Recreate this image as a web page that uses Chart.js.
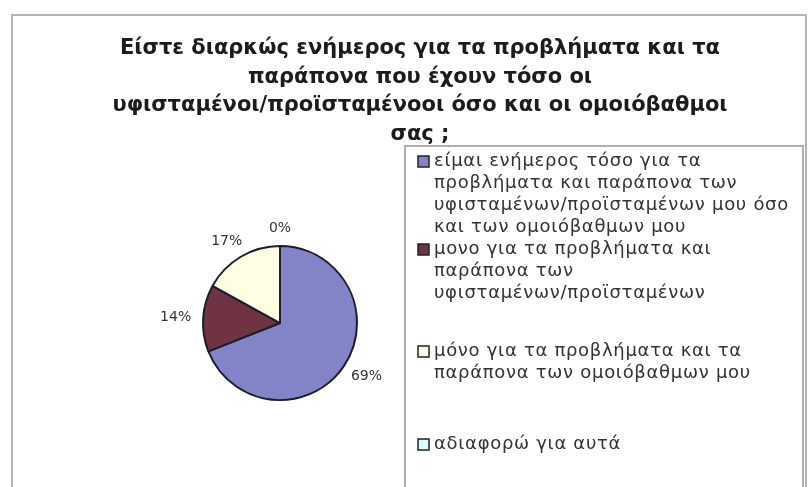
<!DOCTYPE html>
<html lang="el">
<head>
<meta charset="utf-8">
<title>Ενημέρωση για προβλήματα και παράπονα</title>
<script src="https://cdn.jsdelivr.net/npm/chart.js@4.4.1/dist/chart.umd.min.js"></script>
<style>
  html, body { margin: 0; padding: 0; background: #fff; }
  #pieChart { display: block; }
</style>
</head>
<body>
<canvas id="pieChart" width="811" height="487"></canvas>
<script>
// Datos del gráfico
const titleLines = [
  'Είστε διαρκώς ενήμερος για τα προβλήματα και τα',
  'παράπονα που έχουν τόσο οι',
  'υφισταμένοι/προϊσταμένοοι όσο και οι ομοιόβαθμοι',
  'σας ;'
];
const categories = [
  ['είμαι ενήμερος τόσο για τα', 'προβλήματα και παράπονα των', 'υφισταμένων/προϊσταμένων μου όσο', 'και των ομοιόβαθμων μου'],
  ['μονο για τα προβλήματα και', 'παράπονα των', 'υφισταμένων/προϊσταμένων'],
  ['μόνο για τα προβλήματα και τα', 'παράπονα των ομοιόβαθμων μου'],
  ['αδιαφορώ για αυτά']
];
const percentages = [69, 14, 17, 0];
const sliceColors = ['#8184c6', '#6f3344', '#fffde4', '#d8fbfb'];

const FONT = '"DejaVu Sans", sans-serif';

// Reserva el espacio de la leyenda a la derecha para que la torta quede a la izquierda
const rightSpace = {
  id: 'rightSpace',
  beforeInit(chart) {
    Chart.layouts.addBox(chart, {
      position: 'right',
      weight: 0,
      fullSize: false,
      options: {},
      isHorizontal() { return false; },
      update(maxWidth, maxHeight) { this.width = 280; this.height = maxHeight; },
      draw() {}
    });
  }
};

// Marco exterior del gráfico
const outerFrame = {
  id: 'outerFrame',
  afterDraw(chart) {
    const ctx = chart.ctx;
    ctx.save();
    ctx.strokeStyle = '#b4b4b4';
    ctx.lineWidth = 2;
    ctx.strokeRect(12, 15, 794, 490);
    ctx.restore();
  }
};

// Etiquetas de porcentaje fuera de cada porción
const percentLabels = {
  id: 'percentLabels',
  afterDatasetsDraw(chart) {
    const ctx = chart.ctx;
    const meta = chart.getDatasetMeta(0);
    ctx.save();
    ctx.font = '14px ' + FONT;
    ctx.fillStyle = '#333';
    ctx.textAlign = 'center';
    ctx.textBaseline = 'middle';
    meta.data.forEach((arc, i) => {
      const p = arc.getProps(['x', 'y', 'startAngle', 'endAngle', 'outerRadius'], true);
      const mid = (p.startAngle + p.endAngle) / 2;
      const dx = Math.cos(mid), dy = Math.sin(mid);
      const text = percentages[i] + '%';
      const w = ctx.measureText(text).width;
      const d = p.outerRadius + 12;
      ctx.fillText(text, p.x + dx * d + dx * w / 2, p.y + dy * d + dy * 6);
    });
    ctx.restore();
  }
};

// Leyenda con recuadro, como en el original
const boxLegend = {
  id: 'boxLegend',
  afterDraw(chart) {
    const ctx = chart.ctx;
    const itemY = [161, 249, 351, 444];
    const lineH = 22;
    ctx.save();
    ctx.strokeStyle = '#b0b0b0';
    ctx.lineWidth = 2;
    ctx.strokeRect(405, 146, 398, 360);
    ctx.font = '18px ' + FONT;
    ctx.letterSpacing = '0.7px';
    ctx.textBaseline = 'middle';
    ctx.textAlign = 'left';
    chart.data.labels.forEach((lines, i) => {
      const y = itemY[i];
      ctx.fillStyle = chart.data.datasets[0].backgroundColor[i];
      ctx.fillRect(418, y - 5, 11, 11);
      ctx.strokeStyle = '#222';
      ctx.lineWidth = 1.5;
      ctx.strokeRect(418, y - 5, 11, 11);
      ctx.fillStyle = '#333';
      lines.forEach((line, j) => ctx.fillText(line, 434, y + j * lineH));
    });
    ctx.restore();
  }
};

new Chart(document.getElementById('pieChart'), {
  type: 'pie',
  data: {
    labels: categories,
    datasets: [{
      data: percentages,
      backgroundColor: sliceColors,
      borderColor: '#1e1e2a',
      borderWidth: 2,
      radius: 77
    }]
  },
  options: {
    responsive: false,
    animation: false,
    layout: { padding: { left: 29, right: 0, top: 0, bottom: 10 } },
    plugins: {
      legend: { display: false },
      tooltip: { enabled: false },
      title: {
        display: true,
        text: titleLines,
        color: '#1c1c1c',
        font: { family: FONT, size: 21, weight: 'bold', lineHeight: 1.37 },
        padding: { top: 34, bottom: 20 }
      }
    }
  },
  plugins: [rightSpace, percentLabels, boxLegend, outerFrame]
});
</script>
</body>
</html>
